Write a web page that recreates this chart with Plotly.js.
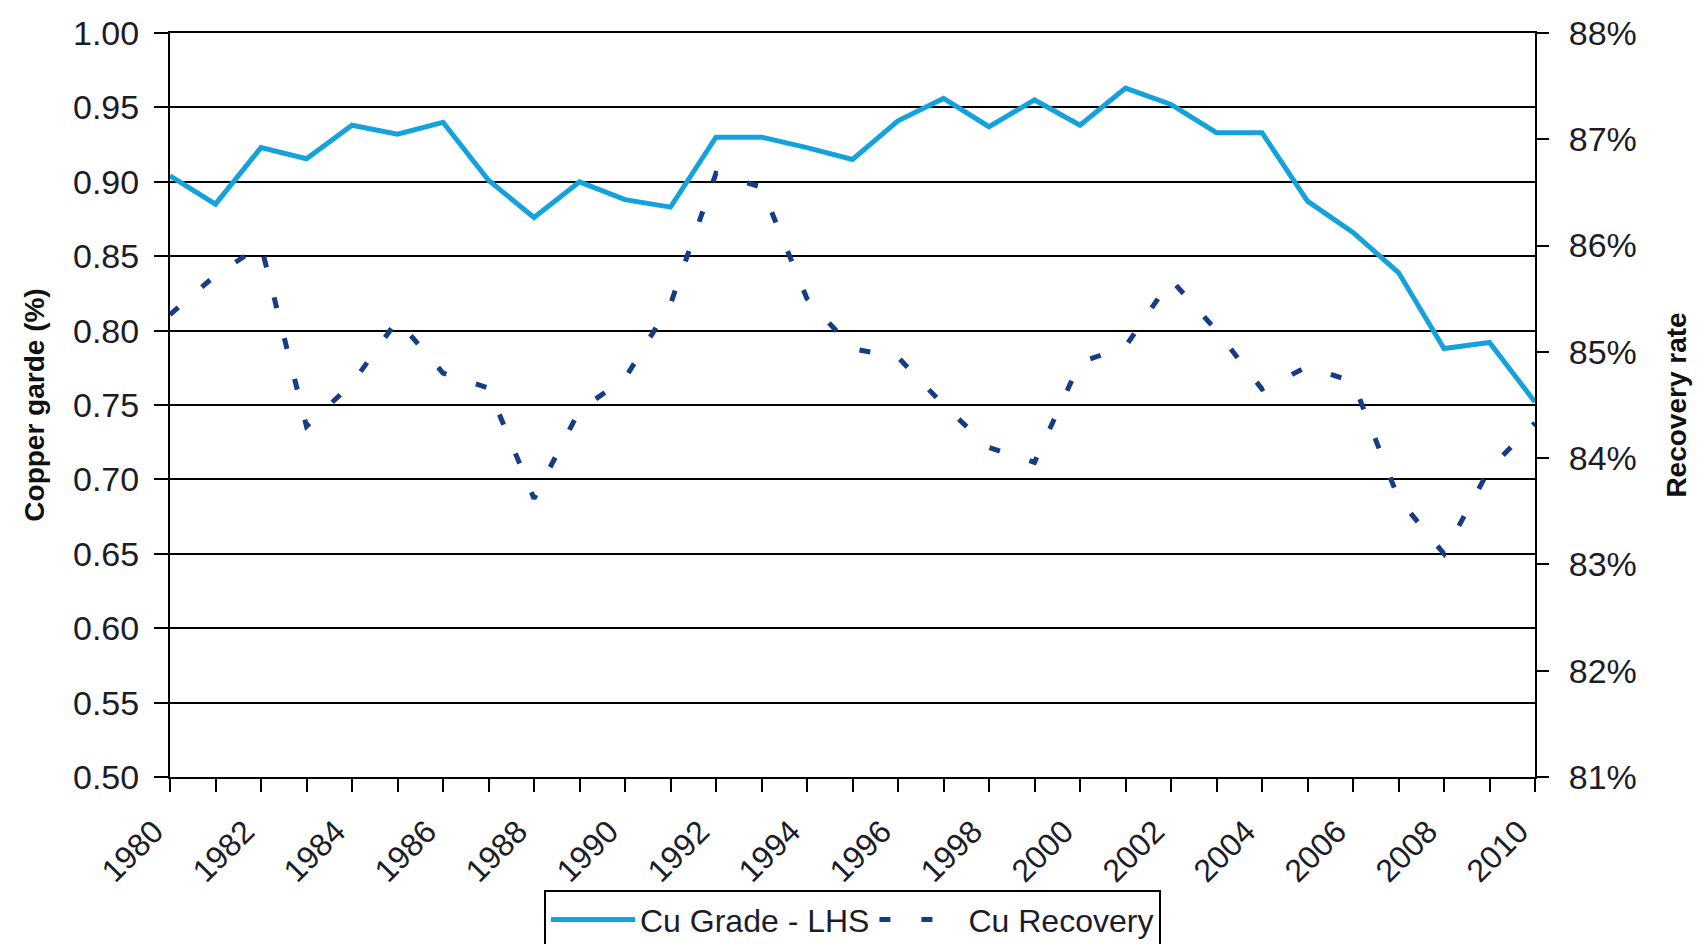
<!DOCTYPE html>
<html><head><meta charset="utf-8">
<script src="https://cdn.plot.ly/plotly-3.0.1.min.js"></script>
<style>html,body{margin:0;padding:0;background:#fff}#chart{width:1700px;height:944px}</style>
</head><body><div id="chart"></div>
<script>
const years = [1980,1981,1982,1983,1984,1985,1986,1987,1988,1989,1990,1991,1992,1993,1994,1995,1996,1997,1998,1999,2000,2001,2002,2003,2004,2005,2006,2007,2008,2009,2010];
const cuGrade = [0.904,0.885,0.923,0.9155,0.938,0.932,0.940,0.901,0.876,0.900,0.888,0.883,0.930,0.930,0.923,0.915,0.941,0.956,0.937,0.955,0.938,0.963,0.952,0.933,0.933,0.887,0.866,0.839,0.788,0.792,0.752];
const cuRecovery = [85.35,85.72,86.0,84.3,84.7,85.3,84.8,84.66,83.62,84.45,84.75,85.45,86.68,86.55,85.5,85.03,84.95,84.5,84.1,83.96,84.9,85.05,85.68,85.2,84.65,84.86,84.72,83.62,83.1,83.9,84.33];
const xTickLabels = years.map(y => (y % 2 === 0 ? String(y) : ''));
const seriesNames = ['Cu Grade - LHS', 'Cu Recovery'];
const leftTitle = 'Copper garde (%)';
const rightTitle = 'Recovery rate';

const FONT = 'Liberation Sans, Arial, sans-serif';
const TXT = '#1c1c28';

const traces = [
  {x: years, y: cuGrade, name: seriesNames[0], type: 'scatter', mode: 'lines', yaxis: 'y',
   line: {color: '#14a2dc', width: 5}},
  {x: years, y: cuRecovery, name: seriesNames[1], type: 'scatter', mode: 'lines', yaxis: 'y2',
   line: {color: '#153d85', width: 5, dash: '11px,31px'}}
];

const layout = {
  width: 1700, height: 944,
  margin: {l: 170, r: 165, t: 33, b: 167, autoexpand: false},
  paper_bgcolor: '#fff', plot_bgcolor: '#fff',
  font: {family: FONT, color: TXT},
  showlegend: true,
  xaxis: {
    automargin: false,
    range: [1980, 2010], tickvals: years, ticktext: xTickLabels, tickangle: -45,
    ticks: 'outside', ticklen: 13, tickwidth: 2, tickcolor: '#000',
    showline: true, linecolor: '#000', linewidth: 2, mirror: true, showgrid: false, zeroline: false,
    tickfont: {size: 32, color: TXT}, ticklabelstandoff: 8, ticklabelshift: -16
  },
  yaxis: {
    automargin: false,
    range: [0.5, 1.0], dtick: 0.05, tick0: 0.5, tickformat: '.2f',
    ticks: 'outside', ticklen: 14, tickwidth: 2, tickcolor: '#000',
    showline: true, linecolor: '#000', linewidth: 2,
    showgrid: true, gridcolor: '#000', gridwidth: 2, zeroline: false,
    tickfont: {size: 34, color: TXT}, ticklabelstandoff: 8,
    title: {text: '<b>' + leftTitle + '</b>', font: {size: 28, color: '#111'}, standoff: 20}
  },
  yaxis2: {
    automargin: false,
    overlaying: 'y', side: 'right', range: [81, 88], dtick: 1, tick0: 81, ticksuffix: '%',
    ticks: 'outside', ticklen: 12, tickwidth: 2, tickcolor: '#000',
    showline: true, linecolor: '#000', linewidth: 2, showgrid: false, zeroline: false,
    tickfont: {size: 34, color: TXT}, ticklabelstandoff: 13,
    title: {text: '<b>' + rightTitle + '</b>', font: {size: 28, color: '#111'}, standoff: 31}
  },
  yaxis3: {
    automargin: false,
    overlaying: 'y', side: 'right', range: [81, 88], dtick: 1, tick0: 81,
    ticks: 'inside', ticklen: 12, tickwidth: 2, tickcolor: '#000',
    showticklabels: false, showline: false, showgrid: false, zeroline: false
  },
  legend: {
    orientation: 'h', x: 0.5, xanchor: 'center', y: -0.152, yanchor: 'top',
    bordercolor: '#000', borderwidth: 2, bgcolor: '#fff',
    font: {size: 32, color: TXT}, itemwidth: 84, tracegroupgap: 0
  }
};

Plotly.newPlot('chart', traces, layout, {displayModeBar: false, staticPlot: true});
</script>
</body></html>
